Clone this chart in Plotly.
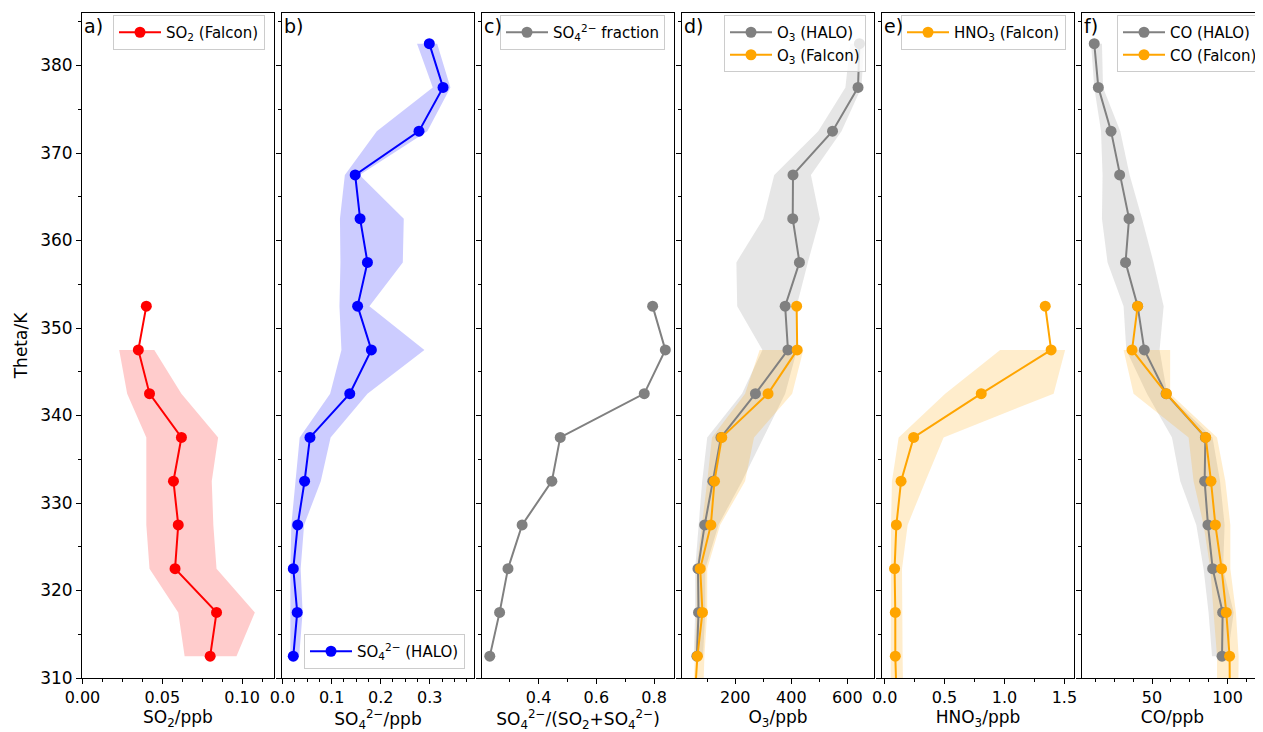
import plotly.graph_objects as go

# ---------------- data ----------------
theta_all = [312.5, 317.5, 322.5, 327.5, 332.5, 337.5, 342.5, 347.5,
             352.5, 357.5, 362.5, 367.5, 372.5, 377.5, 382.5]
theta_falcon = [307.5, 312.5, 317.5, 322.5, 327.5, 332.5, 337.5, 342.5, 347.5, 352.5]
theta_so2 = [312.5, 317.5, 322.5, 327.5, 332.5, 337.5, 342.5, 347.5, 352.5]

# a) SO2 (Falcon)
so2 = [0.080, 0.084, 0.058, 0.060, 0.057, 0.062, 0.042, 0.035, 0.040]
so2_lo = [0.064, 0.060, 0.042, 0.040, 0.040, 0.040, 0.028, 0.023]
so2_hi = [0.0965, 0.108, 0.084, 0.082, 0.081, 0.085, 0.062, 0.045]

# b) SO4 (HALO)
so4 = [0.022, 0.030, 0.022, 0.031, 0.045, 0.056, 0.137, 0.181,
       0.153, 0.173, 0.158, 0.148, 0.278, 0.327, 0.299]
so4_lo = [0.016, 0.016, 0.016, 0.018, 0.027, 0.035, 0.097, 0.120,
          0.116, 0.118, 0.117, 0.127, 0.192, 0.306, 0.274]
so4_hi = [0.034, 0.041, 0.037, 0.044, 0.078, 0.098, 0.173, 0.289,
          0.177, 0.245, 0.247, 0.157, 0.295, 0.342, 0.315]

# c) SO4 fraction
frac = [0.231, 0.265, 0.294, 0.343, 0.446, 0.475, 0.766, 0.839, 0.795]

# d) O3
o3_halo = [63, 69, 67, 91, 120, 149, 272, 388, 378, 429, 405, 406, 547, 638, 643]
o3_halo_lo = [52, 57, 57, 70, 82, 100, 224, 297, 207, 204, 300, 339, 496, 593, 610]
o3_halo_hi = [85, 93, 93, 140, 224, 300, 378, 420, 419, 459, 502, 470, 579, 650, 660]
o3_falcon = [55, 65, 83, 75, 113, 126, 152, 317, 421, 419]
o3_falcon_lo = [50, 55, 62, 62, 82, 100, 117, 235, 287]
o3_falcon_hi = [85, 90, 100, 100, 146, 235, 267, 403, 443]

# e) HNO3 (Falcon)
hno3 = [0.10, 0.089, 0.089, 0.083, 0.098, 0.137, 0.242, 0.806, 1.389, 1.34]
hno3_lo = [0.05, 0.053, 0.053, 0.053, 0.053, 0.061, 0.117, 0.505, 0.964]
hno3_hi = [0.155, 0.15, 0.145, 0.145, 0.192, 0.34, 0.492, 1.41, 1.506]

# f) CO
co_halo = [96.3, 96.7, 90.1, 87.0, 84.8, 85.3, 59.3, 44.9, 40.5, 32.5, 34.8, 28.6, 22.9, 14.5, 11.8]
co_halo_lo = [89.7, 87.4, 84.1, 79.3, 68.7, 63.2, 46.7, 33.0, 31.2, 20.6, 16.9, 17.3, 16.3, 11.8, 9.7]
co_halo_hi = [100, 104, 97, 98, 95, 90, 60, 55, 57.7, 51, 43.4, 35.2, 29, 17.6, 16.9]
co_falcon = [101.5, 101.3, 99.1, 96.0, 91.9, 89.0, 85.5, 59.5, 36.8, 40.5]
co_falcon_lo = [93, 93, 90.7, 88.6, 84.1, 77.5, 74.2, 37.8, 31.2]
co_falcon_hi = [107, 107.3, 105.5, 101.8, 101.8, 98.5, 93, 62, 62]

x_titles = ["SO<sub>2</sub>/ppb", "SO<sub>4</sub><sup>2−</sup>/ppb",
            "SO<sub>4</sub><sup>2−</sup>/(SO<sub>2</sub>+SO<sub>4</sub><sup>2−</sup>)",
            "O<sub>3</sub>/ppb", "HNO<sub>3</sub>/ppb", "CO/ppb"]
panel_labels = ["a)", "b)", "c)", "d)", "e)", "f)"]

# ---------------- styling ----------------
RED, BLUE, GREY, ORANGE = "#ff0000", "#0000ff", "#808080", "#ffa500"
FILL = {RED: "rgba(255,0,0,0.2)", BLUE: "rgba(0,0,255,0.2)",
        GREY: "rgba(128,128,128,0.2)", ORANGE: "rgba(255,165,0,0.2)"}
FONT = "DejaVu Sans"

fig = go.Figure()


def ax(i, letter):
    return letter if i == 1 else f"{letter}{i}"


def shade(i, th, lo, hi, color):
    n = len(lo)
    t = th[:n]
    fig.add_trace(go.Scatter(
        x=list(lo) + list(hi)[::-1], y=list(t) + list(t)[::-1],
        fill="toself", fillcolor=FILL[color], line=dict(width=0),
        mode="lines", hoverinfo="skip", showlegend=False,
        xaxis=ax(i, "x"), yaxis=ax(i, "y")))


def line(i, th, vals, color, name, legend):
    fig.add_trace(go.Scatter(
        x=vals, y=th, mode="lines+markers", name=name,
        line=dict(color=color, width=2), marker=dict(color=color, size=11),
        legend=legend, xaxis=ax(i, "x"), yaxis=ax(i, "y")))


# a
shade(1, theta_so2, so2_lo, so2_hi, RED)
line(1, theta_so2, so2, RED, "SO<sub>2</sub> (Falcon)", "legend")
# b
shade(2, theta_all, so4_lo, so4_hi, BLUE)
line(2, theta_all, so4, BLUE, "SO<sub>4</sub><sup>2−</sup> (HALO)", "legend2")
# c
line(3, theta_so2, frac, GREY, "SO<sub>4</sub><sup>2−</sup> fraction", "legend3")
# d
shade(4, theta_all, o3_halo_lo, o3_halo_hi, GREY)
shade(4, theta_falcon, o3_falcon_lo, o3_falcon_hi, ORANGE)
line(4, theta_all, o3_halo, GREY, "O<sub>3</sub> (HALO)", "legend4")
line(4, theta_falcon, o3_falcon, ORANGE, "O<sub>3</sub> (Falcon)", "legend4")
# e
shade(5, theta_falcon, hno3_lo, hno3_hi, ORANGE)
line(5, theta_falcon, hno3, ORANGE, "HNO<sub>3</sub> (Falcon)", "legend5")
# f
shade(6, theta_all, co_halo_lo, co_halo_hi, GREY)
shade(6, theta_falcon, co_falcon_lo, co_falcon_hi, ORANGE)
line(6, theta_all, co_halo, GREY, "CO (HALO)", "legend6")
line(6, theta_falcon, co_falcon, ORANGE, "CO (Falcon)", "legend6")

# ---------------- layout ----------------
# page body has an 8px margin: figure is 8px smaller so the page fits the window
OFF = 8
W, H = 1263 - OFF, 732 - OFF
L, R, T, B = 82 - OFF, 0, 13 - OFF, 54
PW = W - L - R
PH = H - T - B

x_ranges = [[-0.0003, 0.12], [-0.001, 0.39], [0.204, 0.869],
            [10, 695], [-0.022, 1.58], [3.7, 123.4]]
x_dticks = [0.05, 0.1, 0.2, 200, 0.5, 50]
x_minor = [0.0125, 0.025, 0.1, 100, 0.25, 12.5]
x_fmt = [".2f", ".1f", ".1f", "d", ".1f", "d"]

layout = dict(
    width=W, height=H, margin=dict(l=L, r=R, t=T, b=B, autoexpand=False),
    plot_bgcolor="white", paper_bgcolor="white",
    font=dict(family=FONT, size=16, color="black"),
    showlegend=True,
)

for k in range(6):
    i = k + 1
    x0 = 200 * k / PW
    x1 = min((200 * k + 192) / PW, 1.0)
    layout["xaxis" if i == 1 else f"xaxis{i}"] = dict(
        domain=[x0, x1], range=x_ranges[k], anchor=ax(i, "y"),
        showline=True, linecolor="black", linewidth=1, mirror=True,
        showgrid=False, zeroline=False,
        ticks="outside", ticklen=5, tickwidth=1, tickcolor="black",
        tick0=0, dtick=x_dticks[k], tickformat=x_fmt[k],
        tickfont=dict(size=16),
        minor=dict(ticks="outside", ticklen=3, tickwidth=1, tickcolor="black",
                   tick0=0, dtick=x_minor[k], showgrid=False),
        title=dict(text=x_titles[k], font=dict(size=17), standoff=4),
    )
    ydict = dict(
        domain=[0, 1], range=[310, 386], anchor=ax(i, "x"),
        showline=True, linecolor="black", linewidth=1, mirror=(i != 6),
        showgrid=False, zeroline=False,
        ticks="outside", ticklen=5, tickwidth=1, tickcolor="black",
        tick0=0, dtick=10, tickfont=dict(size=17),
        minor=dict(ticks="outside", ticklen=3, tickwidth=1, tickcolor="black",
                   tick0=0, dtick=5, showgrid=False),
        showticklabels=(i == 1),
    )
    if i == 1:
        ydict["title"] = dict(text="Theta/K", font=dict(size=17), standoff=8)
    else:
        ydict["matches"] = "y"
    layout["yaxis" if i == 1 else f"yaxis{i}"] = ydict

legend_common = dict(bgcolor="rgba(255,255,255,0.8)", bordercolor="#cccccc",
                     borderwidth=1, font=dict(size=15, family=FONT),
                     xanchor="right", yanchor="top", tracegroupgap=0,
                     itemwidth=42)
ytop = 1 - 2 / PH
legend_right_px = [265, 465, 665, 866, 1066, 1263]
for k in range(6):
    name = "legend" if k == 0 else f"legend{k + 1}"
    d = dict(legend_common)
    d["x"] = (legend_right_px[k] - OFF - L) / PW
    if k == 1:
        d["y"] = 9 / PH
        d["yanchor"] = "bottom"
    else:
        d["y"] = ytop
    layout[name] = d

annotations = []
for k in range(6):
    i = k + 1
    annotations.append(dict(
        text=panel_labels[k], xref=ax(i, "x") + " domain",
        yref=ax(i, "y") + " domain",
        x=0, y=1, xanchor="left", yanchor="top", xshift=0, yshift=0,
        showarrow=False, font=dict(size=19, family=FONT, color="black")))
layout["annotations"] = annotations

fig.update_layout(**layout)
fig.write_html("out.html")
